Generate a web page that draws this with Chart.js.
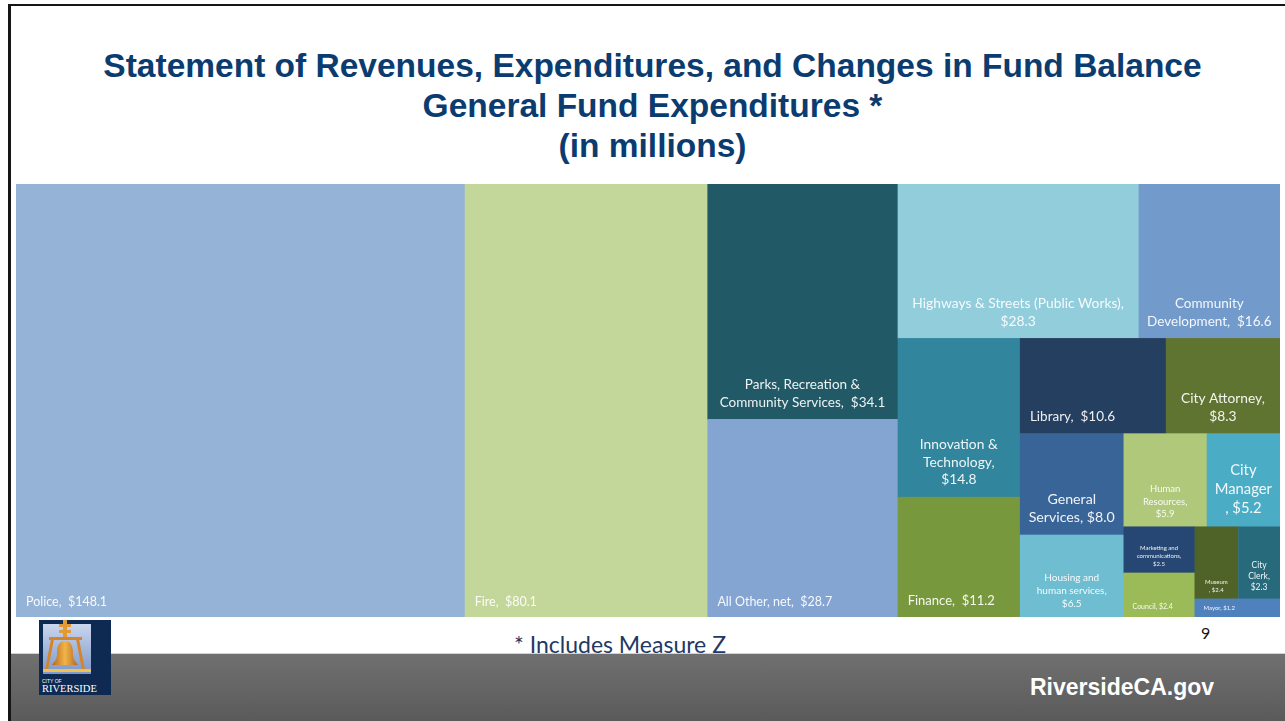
<!DOCTYPE html>
<html>
<head>
<meta charset="utf-8">
<script src="https://cdn.jsdelivr.net/npm/chart.js@4"></script>
<style>
  html, body { margin: 0; padding: 0; }
  body { width: 1285px; height: 721px; position: relative; overflow: hidden; background: #fff; font-family: "Liberation Sans", Arial, sans-serif; }
  .frameTop { position: absolute; left: 8px; top: 4px; width: 1277px; height: 2px; background: #151515; }
  .frameLeft { position: absolute; left: 8px; top: 4px; width: 3px; height: 717px; background: #151515; }
  .title { position: absolute; left: 0; width: 1305px; text-align: center; color: #0b3c70; font-weight: bold; font-size: 33.5px; line-height: 40px; top: 46px; }
  #chartBox { position: absolute; left: 16px; top: 184px; width: 1264px; height: 433px; }
  .note { position: absolute; left: 514px; top: 630px; font-family: Lato, sans-serif; font-size: 23px; color: #1f3864; }
  .pageNo { position: absolute; left: 1201px; top: 623px; font-family: Lato, sans-serif; font-size: 16px; color: #111; }
  .footer { position: absolute; left: 11px; top: 653px; width: 1274px; height: 68px; background: linear-gradient(#707070, #5a5a5a); border-top: 1px solid #d2d2d2; }
  .site { position: absolute; left: 1030px; top: 674px; color: #fff; font-weight: bold; font-size: 23px; }
  .logo { position: absolute; left: 39px; top: 620px; }
</style>
</head>
<body>
<div class="frameTop"></div>
<div class="frameLeft"></div>
<div class="title">Statement of Revenues, Expenditures, and Changes in Fund Balance<br>General Fund Expenditures *<br>(in millions)</div>
<div id="chartBox"><canvas id="treemapChart" width="1264" height="433"></canvas></div>
<div class="footer"></div>
<svg class="logo" width="72" height="75" viewBox="0 0 72 75">
  <defs>
    <linearGradient id="sky" x1="0" y1="0" x2="0" y2="1">
      <stop offset="0" stop-color="#c9d6ee"/>
      <stop offset="1" stop-color="#7d98c9"/>
    </linearGradient>
    <linearGradient id="gold" x1="0" y1="0" x2="1" y2="0">
      <stop offset="0" stop-color="#b8651c"/>
      <stop offset="0.5" stop-color="#f0b54a"/>
      <stop offset="1" stop-color="#b8651c"/>
    </linearGradient>
  </defs>
  <rect width="72" height="75" fill="#0f2a52"/>
  <rect x="4" y="4" width="48" height="50" fill="url(#sky)"/>
  <rect x="24" y="0" width="4" height="18" fill="#e39a35"/>
  <rect x="20" y="4" width="12" height="3" fill="#e39a35"/>
  <rect x="20" y="10" width="12" height="3" fill="#e39a35"/>
  <rect x="10" y="17" width="33" height="3" fill="#d4852c"/>
  <path d="M12 19 L6 50 L9 50 L15 19 Z M40 19 L46 50 L43 50 L37 19 Z" fill="#d4852c"/>
  <path d="M26 21 C19 21 18 28 18 34 C18 40 15 42 13 45 L39 45 C37 42 34 40 34 34 C34 28 33 21 26 21 Z" fill="url(#gold)"/>
  <rect x="4" y="49" width="48" height="3" fill="#f0c24f"/>
  <text x="3" y="63" font-family="Liberation Sans, Arial" font-size="5" fill="#fff">CITY OF</text>
  <text x="3" y="72" font-family="Liberation Serif, serif" font-size="10.5" fill="#fff">RIVERSIDE</text>
</svg>
<div class="note">* Includes Measure Z</div>
<div class="pageNo">9</div>
<div class="site">RiversideCA.gov</div>

<script>
// General Fund expenditures, millions of dollars (largest first)
const categories = [
    'Police', 'Fire', 'Parks, Recreation & Community Services', 'All Other, net',
    'Highways & Streets (Public Works)', 'Community Development', 'Innovation & Technology',
    'Finance', 'Library', 'City Attorney', 'General Services', 'Housing and human services',
    'Human Resources', 'City Manager', 'Marketing and communications', 'Council',
    'Museum', 'City Clerk', 'Mayor'
];
const amounts = [148.1, 80.1, 34.1, 28.7, 28.3, 16.6, 14.8, 11.2, 10.6, 8.3, 8.0, 6.5, 5.9, 5.2, 2.5, 2.4, 2.4, 2.3, 1.2];

// label text as written on the slide (with its line breaks)
const cellLabels = [
    'Police,  $148.1', 'Fire,  $80.1', 'Parks, Recreation &\nCommunity Services,  $34.1', 'All Other, net,  $28.7',
    'Highways & Streets (Public Works),\n$28.3', 'Community\nDevelopment,  $16.6', 'Innovation &\nTechnology,\n$14.8',
    'Finance,  $11.2', 'Library,  $10.6', 'City Attorney,\n$8.3', 'General\nServices, $8.0',
    'Housing and\nhuman services,\n$6.5', 'Human\nResources,\n$5.9', 'City\nManager\n, $5.2',
    'Marketing and\ncommunications,\n$2.5', 'Council, $2.4', 'Museum\n, $2.4', 'City\nClerk,\n$2.3', 'Mayor, $1.2'
];

// styles
const palette = [
    '#95b3d7', '#c4d79b', '#215967', '#84a4d2', '#92cddc', '#729aca', '#31859c',
    '#78983e', '#253f61', '#607431', '#386497', '#6ebdd1', '#afc87a', '#4bacc6',
    '#264673', '#9bbb59', '#4f6228', '#276a7c', '#4f81bd'
];
const labelSizes = [12.5, 12.5, 13.5, 12.5, 13.8, 13.5, 13.8, 13, 13.5, 13.8, 14.2, 10, 9.5, 14.8, 6, 7, 6, 8.5, 6];

// squarified treemap layout in a W x H box, cells in data order
function worstRatio(row, side) {
    const s = row.reduce((a, b) => a + b, 0);
    const mx = Math.max(...row), mn = Math.min(...row);
    return Math.max(side * side * mx / (s * s), (s * s) / (side * side * mn));
}

function squarify(values, W, H) {
    const total = values.reduce((a, b) => a + b, 0);
    const areas = values.map(v => v * W * H / total);
    const rects = [];
    let x = 0, y = 0, w = W, h = H, i = 0;
    while (i < areas.length) {
        const side = Math.min(w, h);
        const row = [areas[i]];
        let j = i + 1;
        while (j < areas.length && worstRatio(row.concat(areas[j]), side) <= worstRatio(row, side)) {
            row.push(areas[j]);
            j++;
        }
        const thick = row.reduce((a, b) => a + b, 0) / side;
        if (h <= w) {
            let yy = y;
            row.forEach(a => { const hh = a / thick; rects.push({ x0: x, x1: x + thick, y0: yy, y1: yy + hh }); yy += hh; });
            x += thick; w -= thick;
        } else {
            let xx = x;
            row.forEach(a => { const ww = a / thick; rects.push({ x0: xx, x1: xx + ww, y0: y, y1: y + thick }); xx += ww; });
            y += thick; h -= thick;
        }
        i = j;
    }
    return rects;
}

const treemapPlugin = {
    id: 'treemap',
    afterLayout(chart) {
        const a = chart.chartArea;
        const aspect = (a.right - a.left) / (a.bottom - a.top);
        // layout in aspect x 1, then map x into the 0..1 scale
        chart.$cells = squarify(amounts, aspect, 1).map(r => ({
            x0: r.x0 / aspect, x1: r.x1 / aspect, y0: r.y0, y1: r.y1
        }));
    },
    beforeDatasetsDraw(chart) {
        const { ctx, scales: { x, y } } = chart;
        chart.$cells.forEach((c, i) => {
            const left = x.getPixelForValue(c.x0), right = x.getPixelForValue(c.x1);
            const top = y.getPixelForValue(c.y0), bottom = y.getPixelForValue(c.y1);
            ctx.fillStyle = palette[i];
            ctx.fillRect(left, top, right - left + 0.5, bottom - top + 0.5);

            const lines = cellLabels[i].split('\n');
            const fs = labelSizes[i];
            const lh = fs * 1.3;
            ctx.save();
            ctx.font = fs + 'px Lato, "Open Sans", sans-serif';
            ctx.fillStyle = 'rgba(255,255,255,0.92)';
            ctx.textBaseline = 'middle';
            const single = lines.length === 1;
            ctx.textAlign = single ? 'left' : 'center';
            const tx = single ? left + (fs < 9 ? 9 : 10) : (left + right) / 2;
            let ty = bottom - (fs + 3) - (lines.length - 1) * lh;
            lines.forEach(line => { ctx.fillText(line, tx, ty); ty += lh; });
            ctx.restore();
        });
    }
};

const treemapCtx = document.getElementById('treemapChart').getContext('2d');
const treemapChart = new Chart(treemapCtx, {
    type: 'scatter',
    data: {
        datasets: [{ label: 'General Fund Expenditures', data: [] }]
    },
    options: {
        responsive: false,
        animation: false,
        layout: { padding: 0 },
        plugins: {
            legend: { display: false },
            tooltip: { enabled: false }
        },
        scales: {
            x: { type: 'linear', min: 0, max: 1, display: false },
            y: { type: 'linear', min: 0, max: 1, reverse: true, display: false }
        }
    },
    plugins: [treemapPlugin]
});
</script>
</body>
</html>
